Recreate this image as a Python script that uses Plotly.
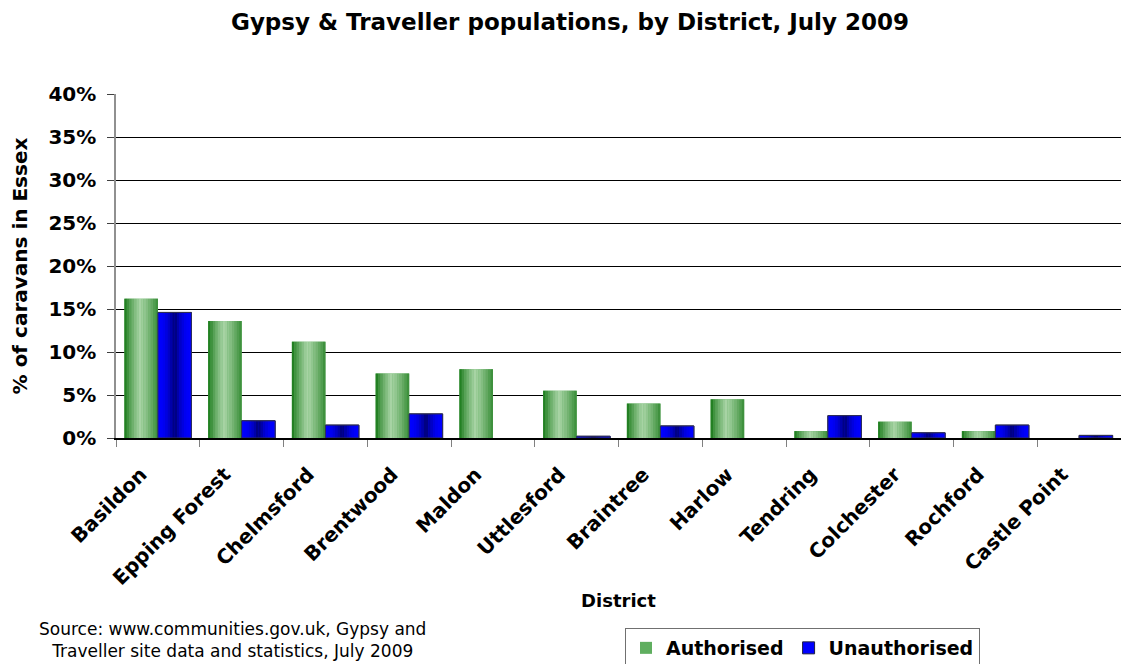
import numpy as np
import plotly.graph_objects as go

districts = ["Basildon", "Epping Forest", "Chelmsford", "Brentwood", "Maldon", "Uttlesford",
             "Braintree", "Harlow", "Tendring", "Colchester", "Rochford", "Castle Point"]
authorised = [16.2, 13.6, 11.2, 7.5, 8.0, 5.5, 4.0, 4.5, 0.8, 1.9, 0.8, 0.0]
unauthorised = [14.6, 2.0, 1.5, 2.8, 0.0, 0.2, 1.4, 0.0, 2.6, 0.6, 1.5, 0.3]
y_ticks = [0, 5, 10, 15, 20, 25, 30, 35, 40]
y_tick_labels = [f"{v}%" for v in y_ticks]

FONT = "DejaVu Sans, Arial, sans-serif"
BW = 0.4
N = 14

W, H = 1113, 656          # page body has an 8px margin; keep the page inside the window
L, T, B, R = 108, 86, 226, 0
PW, PH = W - L - R, H - T - B

def mix(c1, c2, t):
    return "rgb({},{},{})".format(*[int(round(a + (b - a) * t)) for a, b in zip(c1, c2)])

unauth_line_w = [1 if v > 0 else 0 for v in unauthorised]

fig = go.Figure()

# base bars (legend entries)
fig.add_trace(go.Bar(x=districts, y=authorised, name="Authorised", width=BW, offset=-BW,
                     marker=dict(color="#5fae5f", line=dict(width=0)), showlegend=True))
fig.add_trace(go.Bar(x=districts, y=unauthorised, name="Unauthorised", width=BW, offset=0,
                     marker=dict(color="#0000ff", line=dict(color="#202040", width=unauth_line_w)),
                     showlegend=True))

# gradient stripes for authorised (dark left edge, light centre, medium right)
dark_g = (15, 115, 15)
light_g = (168, 212, 165)
sw = BW / N
for i in range(N):
    t = (i + 0.5) / N
    if t < 0.45:
        k = (t / 0.45) ** 0.8
    else:
        k = 1 - 0.75 * ((t - 0.45) / 0.55) ** 1.3
    fig.add_trace(go.Bar(x=districts, y=authorised, width=sw * 1.05, offset=-BW + i * sw,
                         marker=dict(color=mix(dark_g, light_g, k), line=dict(width=0)),
                         showlegend=False, hoverinfo="skip"))

# gradient stripes for unauthorised (blue edges, dark centre)
edge_b = (0, 0, 255)
mid_b = (0, 0, 110)
for i in range(N):
    t = (i + 0.5) / N
    k = max(0.0, 1 - abs(t - 0.5) / 0.5) ** 2.2
    fig.add_trace(go.Bar(x=districts, y=unauthorised, width=sw * 1.05, offset=i * sw,
                         marker=dict(color=mix(edge_b, mid_b, k), line=dict(width=0)),
                         showlegend=False, hoverinfo="skip"))

# outline for unauthorised
fig.add_trace(go.Bar(x=districts, y=unauthorised, width=BW, offset=0,
                     marker=dict(color="rgba(0,0,0,0)", line=dict(color="#303050", width=unauth_line_w)),
                     showlegend=False, hoverinfo="skip"))

fig.update_layout(
    width=W, height=H,
    barmode="overlay",
    plot_bgcolor="white", paper_bgcolor="white",
    margin=dict(l=L, r=R, t=T, b=B, autoexpand=False),
    font=dict(family=FONT, color="black"),
    title=dict(text="<b>Gypsy & Traveller populations, by District, July 2009</b>",
               x=562 / W, xanchor="center", y=1 - 14 / H, yanchor="middle",
               font=dict(size=23, family=FONT, color="black")),
    xaxis=dict(
        type="category",
        tickangle=-45,
        tickfont=dict(size=20, family=FONT, color="black", weight="bold"),
        ticks="outside", ticklen=7, tickcolor="#808080", tickson="boundaries",
        ticklabelstandoff=15, ticklabelshift=-17,
        showline=True, linecolor="black", linewidth=1.5,
        showgrid=False, automargin=False,
        title=dict(text="<b>District</b>", font=dict(size=18, family=FONT), standoff=6),
        range=[-0.5, 11.5],
    ),
    yaxis=dict(
        range=[0, 40],
        tickvals=y_ticks, ticktext=y_tick_labels,
        tickfont=dict(size=20, family=FONT, color="black", weight="bold"),
        ticks="outside", ticklen=7, tickcolor="#404040", ticklabelstandoff=7,
        showline=True, linecolor="#909090", linewidth=1.5,
        showgrid=True, gridcolor="black", gridwidth=1,
        zeroline=False, automargin=False,
        title=dict(text="<b>% of caravans in Essex</b>", font=dict(size=20, family=FONT), standoff=18),
    ),
    legend=dict(
        orientation="h",
        x=(617 - L) / PW, xanchor="left", y=(T + PH - 620) / PH, yanchor="top",
        bordercolor="#707070", borderwidth=1, bgcolor="white",
        font=dict(size=19, family=FONT, color="black", weight="bold"),
        itemwidth=30, tracegroupgap=0,
    ),
    showlegend=True,
)

fig.add_annotation(text="Source: www.communities.gov.uk, Gypsy and<br>Traveller site data and statistics, July 2009",
                   xref="paper", yref="paper", x=(224 - L) / PW, y=(T + PH - 609) / PH,
                   xanchor="center", yanchor="top", showarrow=False, align="center",
                   font=dict(size=17, family=FONT, color="black"))

fig.write_html("out.html")
